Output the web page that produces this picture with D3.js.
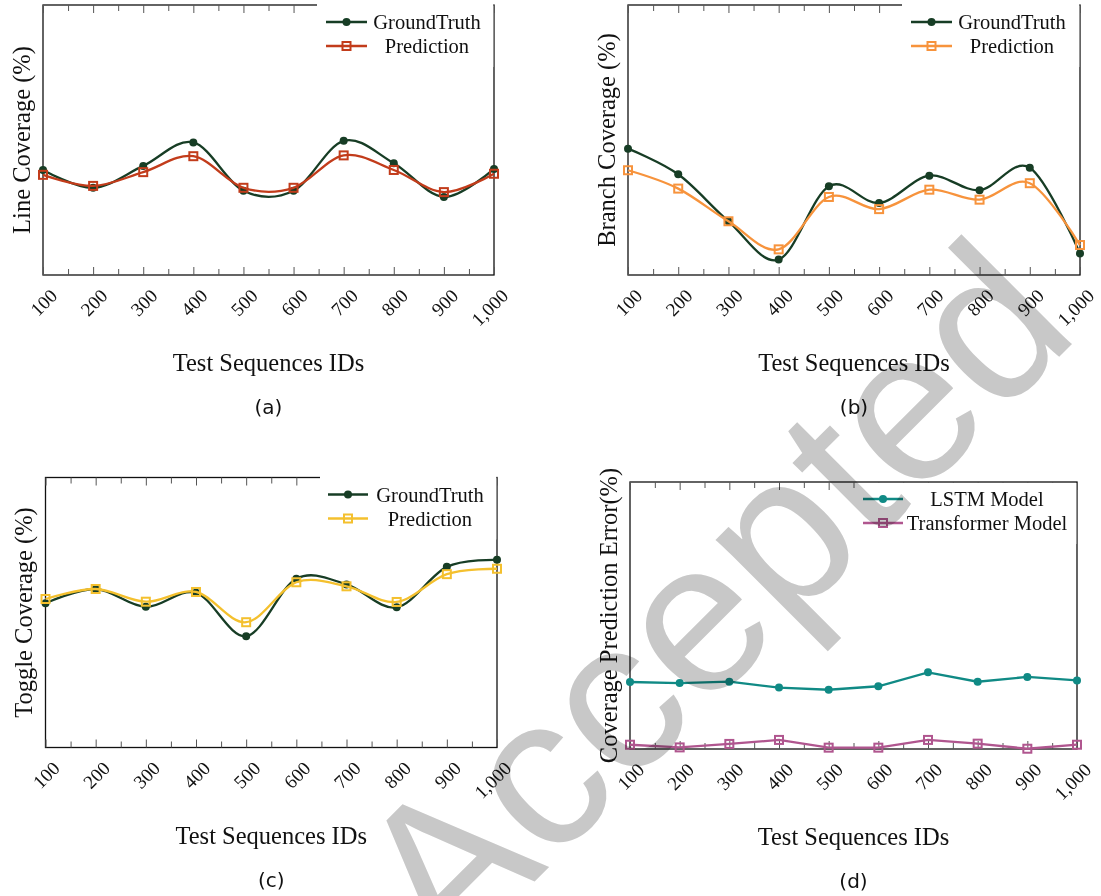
<!DOCTYPE html>
<html>
<head>
<meta charset="utf-8">
<script src="https://cdn.jsdelivr.net/npm/d3@7"></script>
<style>
  body { margin: 0; background: #fff; }
  svg { display: block; background: #fff; }
  text { font-family: 'Liberation Serif', 'Times New Roman', serif; fill: #111; }
  .caption { font-family: 'DejaVu Sans', sans-serif; }
  .tick line { stroke: #555; stroke-width: 1; }
</style>
</head>
<body>
<svg id="chart" width="1101" height="896"></svg>
<script>
// test sequence ids (x axis)
const seqIds = [100, 200, 300, 400, 500, 600, 700, 800, 900, 1000];
const minorIds = [150, 250, 350, 450, 550, 650, 750, 850, 950];

// (a) line coverage
const lineGT   = [38.9, 32.3, 40.4, 49.1, 31.2, 31.2, 49.7, 41.4, 28.9, 39.3];
const linePred = [37.1, 33.0, 38.1, 44.0, 32.3, 32.3, 44.3, 38.9, 30.7, 37.5];
// (b) branch coverage
const branchGT   = [46.8, 37.3, 19.9, 5.7, 32.9, 26.7, 36.8, 31.4, 39.7, 8.0];
const branchPred = [38.8, 32.0, 19.9, 9.5, 28.9, 24.4, 31.6, 27.9, 34.0, 11.1];
// (c) toggle coverage
const toggleGT   = [53.4, 58.7, 52.1, 57.3, 41.2, 62.5, 60.4, 51.9, 66.9, 69.5];
const togglePred = [55.0, 58.7, 54.0, 57.6, 46.4, 61.2, 59.7, 53.9, 64.2, 66.2];
// (d) coverage prediction error
const lstmErr        = [25.1, 24.7, 25.2, 23.0, 22.2, 23.5, 28.7, 25.2, 27.0, 25.7];
const transformerErr = [1.6, 0.6, 1.9, 3.4, 0.5, 0.5, 3.4, 2.0, 0.1, 1.6];

const GT_COLOR = '#173d25';
const smooth = d3.curveCardinal.tension(0);

const panels = [
    { box: [43, 5, 494, 275], yLabel: 'Line Coverage (%)', caption: '(a)', curve: smooth,
      legend: { left: 317, top: -2, lineX: [9, 50], textX: 110 },
      series: [
          { name: 'GroundTruth', values: lineGT, color: GT_COLOR, mark: 'circle' },
          { name: 'Prediction', values: linePred, color: '#c23c1b', mark: 'square' }
      ] },
    { box: [628, 5, 1080, 275], yLabel: 'Branch Coverage (%)', caption: '(b)', curve: smooth,
      legend: { left: 902, top: -2, lineX: [9, 50], textX: 110 },
      series: [
          { name: 'GroundTruth', values: branchGT, color: GT_COLOR, mark: 'circle' },
          { name: 'Prediction', values: branchPred, color: '#f7933c', mark: 'square' }
      ] },
    { box: [45.5, 477.5, 497, 747.5], yLabel: 'Toggle Coverage (%)', caption: '(c)', curve: smooth,
      legend: { left: 320, top: -2, lineX: [8, 48], textX: 110 },
      series: [
          { name: 'GroundTruth', values: toggleGT, color: GT_COLOR, mark: 'circle' },
          { name: 'Prediction', values: togglePred, color: '#f4c02e', mark: 'square' }
      ] },
    { box: [630, 482, 1077, 749], yLabel: 'Coverage Prediction Error(%)', caption: '(d)', curve: d3.curveLinear,
      legend: { left: 856, top: 1, lineX: [7, 47], textX: 131 },
      series: [
          { name: 'LSTM Model', values: lstmErr, color: '#108a85', mark: 'circle' },
          { name: 'Transformer Model', values: transformerErr, color: '#b0568f', mark: 'square' }
      ] }
];

const svg = d3.select('#chart');

const drawMark = (g, type, x, y, color) => {
    if (type === 'circle') {
        g.append('circle').attr('cx', x).attr('cy', y).attr('r', 4).attr('fill', color);
    } else {
        g.append('rect')
            .attr('x', x - 4).attr('y', y - 4)
            .attr('width', 8).attr('height', 8)
            .attr('fill', 'none')
            .attr('stroke', color)
            .attr('stroke-width', 2);
    }
};

const drawPanel = (p) => {
    const [x0, y0, x1, y1] = p.box;
    const g = svg.append('g');
    const x = d3.scaleLinear().domain([100, 1000]).range([x0, x1]);
    const y = d3.scaleLinear().domain([0, 100]).range([y1, y0]);

    // frame
    g.append('rect')
        .attr('x', x0).attr('y', y0)
        .attr('width', x1 - x0).attr('height', y1 - y0)
        .attr('fill', 'none').attr('stroke', '#111').attr('stroke-width', 1.3);

    // ticks pointing inside, bottom + top, major + minor
    const bottomMajor = g.append('g').attr('transform', `translate(0,${y1})`)
        .call(d3.axisBottom(x).tickValues(seqIds).tickSizeInner(-8).tickSizeOuter(0).tickFormat(d3.format(',')));
    g.append('g').attr('transform', `translate(0,${y1})`)
        .call(d3.axisBottom(x).tickValues(minorIds).tickSizeInner(-6).tickSizeOuter(0).tickFormat(''));
    g.append('g').attr('transform', `translate(0,${y0})`)
        .call(d3.axisTop(x).tickValues(seqIds).tickSizeInner(-8).tickSizeOuter(0).tickFormat(''));
    g.append('g').attr('transform', `translate(0,${y0})`)
        .call(d3.axisTop(x).tickValues(minorIds).tickSizeInner(-6).tickSizeOuter(0).tickFormat(''));
    g.selectAll('.domain').remove();

    bottomMajor.selectAll('text')
        .attr('x', 0).attr('y', 0).attr('dy', 0)
        .attr('text-anchor', 'end')
        .attr('transform', 'translate(15,22) rotate(-45)')
        .style('font-family', "'Liberation Serif', serif")
        .style('font-size', '19px');

    // series
    const line = d3.line()
        .x((d, i) => x(seqIds[i]))
        .y(d => y(d))
        .curve(p.curve);
    p.series.forEach(s => {
        g.append('path')
            .attr('d', line(s.values))
            .attr('fill', 'none')
            .attr('stroke', s.color)
            .attr('stroke-width', 2.3);
        const mg = g.append('g');
        s.values.forEach((v, i) => drawMark(mg, s.mark, x(seqIds[i]), y(v), s.color));
    });

    // legend (white box over the top ticks)
    const lg = g.append('g').attr('transform', `translate(${p.legend.left},${y0})`);
    lg.append('rect')
        .attr('x', 0).attr('y', p.legend.top)
        .attr('width', x1 - p.legend.left - 0.7)
        .attr('height', 62 - p.legend.top)
        .attr('fill', '#fff');
    p.series.forEach((s, i) => {
        const ry = 17 + i * 24;
        lg.append('line')
            .attr('x1', p.legend.lineX[0]).attr('x2', p.legend.lineX[1])
            .attr('y1', ry).attr('y2', ry)
            .attr('stroke', s.color).attr('stroke-width', 2.3);
        drawMark(lg, s.mark, (p.legend.lineX[0] + p.legend.lineX[1]) / 2, ry, s.color);
        lg.append('text')
            .text(s.name)
            .attr('x', p.legend.textX)
            .attr('y', ry + 7)
            .attr('text-anchor', 'middle')
            .style('font-size', '20.5px');
    });

    // axis titles and caption
    g.append('text')
        .text(p.yLabel)
        .attr('transform', `translate(${x0 - 13.5},${(y0 + y1) / 2}) rotate(-90)`)
        .attr('text-anchor', 'middle')
        .style('font-size', '24.5px');
    g.append('text')
        .text('Test Sequences IDs')
        .attr('x', (x0 + x1) / 2)
        .attr('y', y1 + 96)
        .attr('text-anchor', 'middle')
        .style('font-size', '24.5px');
    g.append('text')
        .attr('class', 'caption')
        .text(p.caption)
        .attr('x', (x0 + x1) / 2)
        .attr('y', y1 + 139)
        .attr('text-anchor', 'middle')
        .style('font-size', '20px');
};

panels.forEach(drawPanel);

// watermark, multiplied over the figure so dark ink stays dark
svg.append('text')
    .text('Accepted')
    .attr('transform', 'translate(448,968) rotate(-45)')
    .style('font-family', "'Liberation Sans', Arial, sans-serif")
    .style('font-size', '215px')
    .style('mix-blend-mode', 'multiply')
    .style('fill', '#c8c8c8');
</script>
</body>
</html>
